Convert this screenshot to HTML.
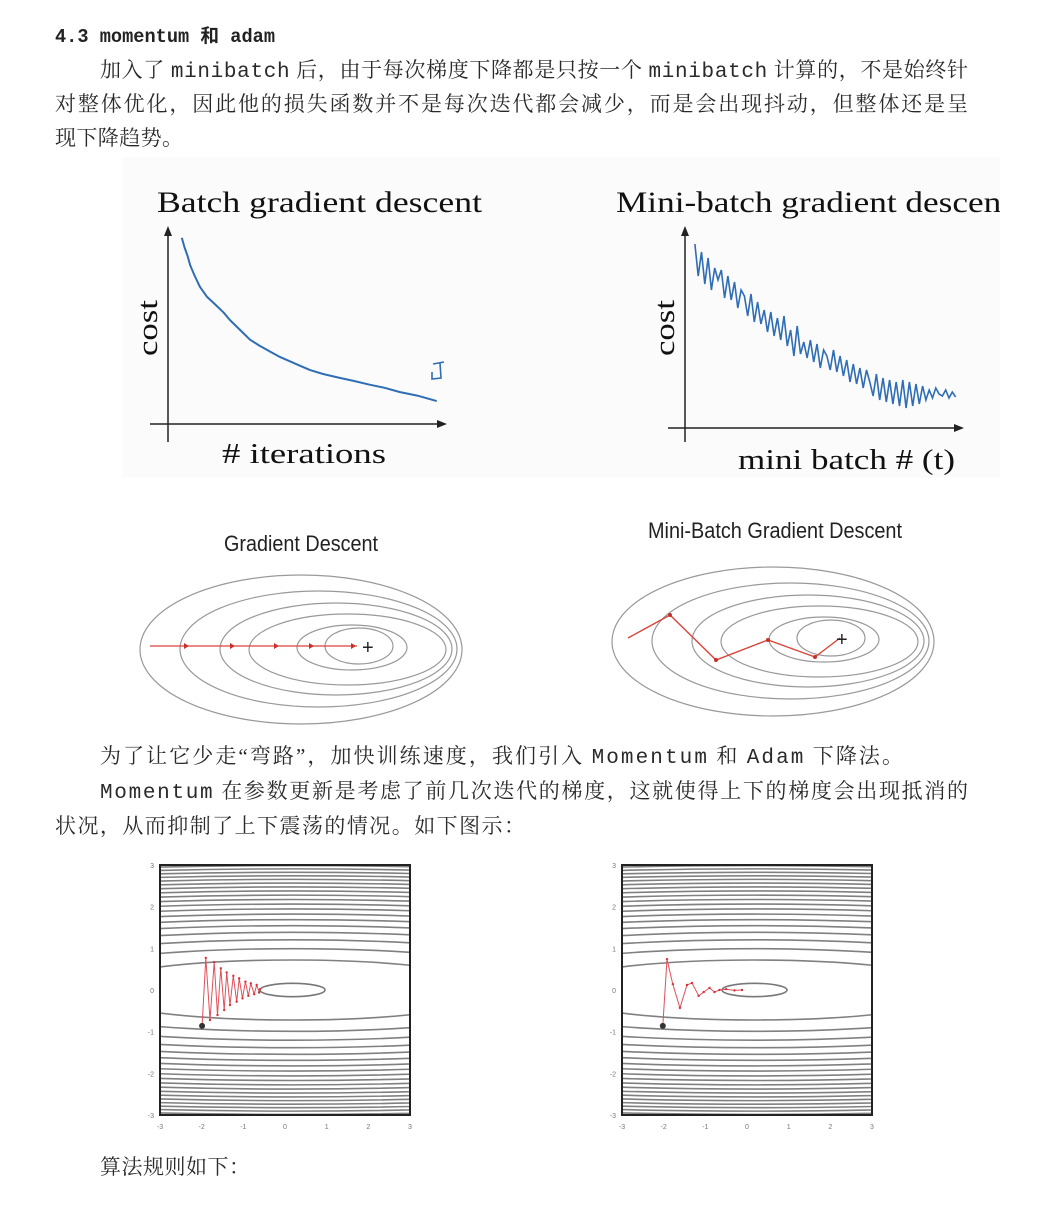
<!DOCTYPE html>
<html><head><meta charset="utf-8"><style>
html,body{margin:0;padding:0;background:#fff;}
svg{display:block;}
.cj{font-family:"Liberation Serif","Noto Serif CJK SC",serif;font-size:21px;fill:#2a2a2a;}
.mo{font-family:"Liberation Mono","Noto Sans CJK SC",monospace;}
</style></head><body>
<svg id="page" width="1048" height="1206" viewBox="0 0 1048 1206" xmlns="http://www.w3.org/2000/svg">
<text x="55" y="42" class="mo" font-size="19" font-weight="bold" fill="#222" textLength="220" lengthAdjust="spacingAndGlyphs">4.3 momentum 和 adam</text>
<text class="cj" x="100" y="77" textLength="868" lengthAdjust="spacing">加入了 <tspan class="mo">minibatch</tspan> 后，由于每次梯度下降都是只按一个 <tspan class="mo">minibatch</tspan> 计算的，不是始终针</text>
<text class="cj" x="55" y="111" textLength="913" lengthAdjust="spacing">对整体优化，因此他的损失函数并不是每次迭代都会减少，而是会出现抖动，但整体还是呈</text>
<text class="cj" x="55" y="145" textLength="128" lengthAdjust="spacing">现下降趋势。</text>

<rect x="122" y="157" width="878" height="321" fill="#fbfbfb"/>
<g id="batchChart"></g>
<g id="miniChart"></g>
<g id="gdContour"></g>
<g id="mbContour"></g>

<text class="cj" x="100" y="763" textLength="803" lengthAdjust="spacing">为了让它少走“弯路”，加快训练速度，我们引入 <tspan class="mo">Momentum</tspan> 和 <tspan class="mo">Adam</tspan> 下降法。</text>
<text class="cj" x="100" y="798" textLength="868" lengthAdjust="spacing"><tspan class="mo">Momentum</tspan> 在参数更新是考虑了前几次迭代的梯度，这就使得上下的梯度会出现抵消的</text>
<text class="cj" x="55" y="833" textLength="470" lengthAdjust="spacing">状况，从而抑制了上下震荡的情况。如下图示：</text>

<g id="sgdPlot"></g>
<g id="momPlot"></g>

<text class="cj" x="100" y="1174" textLength="150" lengthAdjust="spacing">算法规则如下：</text>
</svg>
<script>
// ---- batch cost chart data ----
const batchIter = [5,6,7,8,9.5,11.5,14,17,20,22.4,26,29.6,33,36.8,40,44,48,51.3,56,62,67,73,78,83.8,90,97];
const batchCost = [9.5,9.0,8.6,8.1,7.6,7.0,6.5,6.1,5.7,5.3,4.8,4.3,4.0,3.7,3.45,3.2,2.95,2.75,2.55,2.35,2.2,2.0,1.85,1.63,1.45,1.17];
// ---- mini-batch cost chart data ----
const miniCost = [9.2,7.6,8.8,7.2,8.5,6.9,8.0,7.4,7.9,6.5,7.6,6.4,7.3,6.0,6.9,6.6,5.6,6.7,5.3,6.3,5.2,5.9,4.8,5.8,4.6,5.5,4.4,5.6,4.1,4.9,3.6,5.1,3.7,4.3,3.5,4.4,3.3,4.2,3.0,3.9,3.6,2.9,3.9,2.8,3.6,2.6,3.4,2.3,3.2,2.2,3.0,2.0,2.9,2.3,1.6,2.7,1.4,2.5,1.3,2.4,1.2,2.3,1.1,2.4,1.0,2.3,1.1,2.2,1.2,2.1,1.4,1.9,1.5,2.0,1.7,1.6,1.9,1.5,1.8,1.55];
// ---- contour illustration data (ellipse extents) ----
const gdLeft = [140,180,220,249,297,325];
const gdRight = [462,457,452,446,407,393];
const gdTop = [575,591,603,614,625,628];
const gdBottom = [724,707,695,685,670,664];
const gdSteps = [150,188,234,278,313,355];
const mbPathX = [628,670,716,768,815,840];
const mbPathY = [638,615,660,640,657,638];
// ---- momentum plots data ----
const sgdX = [-1.99,-1.90,-1.80,-1.70,-1.62,-1.54,-1.46,-1.40,-1.32,-1.24,-1.16,-1.10,-1.02,-0.95,-0.88,-0.82,-0.74,-0.68,-0.62,-0.60];
const sgdY = [-0.86,0.77,-0.72,0.67,-0.60,0.52,-0.48,0.42,-0.36,0.34,-0.28,0.28,-0.20,0.20,-0.14,0.16,-0.10,0.12,-0.06,0.02];
const momX = [-2.02,-1.92,-1.78,-1.61,-1.44,-1.32,-1.16,-1.04,-0.90,-0.78,-0.66,-0.50,-0.30,-0.12];
const momY = [-0.86,0.74,0.14,-0.43,0.12,0.17,-0.14,-0.05,0.05,-0.05,0.00,0.02,-0.01,0.00];
const tickVals = [-3,-2,-1,0,1,2,3];

const NS='http://www.w3.org/2000/svg';
function mk(parent,tag,attrs,text){const e=document.createElementNS(NS,tag);for(const k in attrs)e.setAttribute(k,attrs[k]);if(text!==undefined)e.textContent=text;parent.appendChild(e);return e;}

// Batch chart
(function(){
 const g=document.getElementById('batchChart');
 const x=v=>168+v*2.77, y=v=>424-v*19.6;
 let e;
 e=mk(g,'text',{x:157,y:212,'font-family':'Liberation Serif, serif','font-size':30,fill:'#111',textLength:325,lengthAdjust:'spacingAndGlyphs'},'Batch gradient descent');
 
 
 e=mk(g,'path',{d:'M168,442 V232 M150,424 H441',stroke:'#222','stroke-width':1.5,fill:'none'});
 
 
 mk(g,'path',{d:'M164,236 L168,226 L172,236Z M437,420 L447,424 L437,428Z',fill:'#222'});
 e=mk(g,'text',{x:0,y:0,transform:'translate(157,356) rotate(-90)','font-family':'Liberation Serif, serif','font-size':28,fill:'#111',textLength:56,lengthAdjust:'spacingAndGlyphs'},'cost');
 
 
 e=mk(g,'text',{x:222,y:463,'font-family':'Liberation Serif, serif','font-size':28,fill:'#111',textLength:164,lengthAdjust:'spacingAndGlyphs'},'# iterations');
 
 
 const d=batchIter.map((v,i)=>(i?'L':'M')+x(v).toFixed(1)+','+y(batchCost[i]).toFixed(1)).join(' ');
 e=mk(g,'path',{d:d,stroke:'#2f6db5','stroke-width':2,fill:'none','stroke-linejoin':'round'});
 
 
 e=mk(g,'path',{d:'M433,364 L444,362 M440,363 L441,378 L432,379 L432,372',stroke:'#2f6db5','stroke-width':1.6,fill:'none'});
 
 
})();

// Mini-batch chart
(function(){
 const g=document.getElementById('miniChart');
 const x=v=>685+(v+3)*3.3, y=v=>428-v*20;
 let e;
 e=mk(g,'text',{x:616,y:212,'font-family':'Liberation Serif, serif','font-size':30,fill:'#111',textLength:395,lengthAdjust:'spacingAndGlyphs'},'Mini-batch gradient descent');
 
 
 mk(g,'rect',{x:1000,y:170,width:48,height:60,fill:'#fff'});
 e=mk(g,'path',{d:'M685,442 V232 M668,428 H958',stroke:'#222','stroke-width':1.5,fill:'none'});
 
 
 mk(g,'path',{d:'M681,236 L685,226 L689,236Z M954,424 L964,428 L954,432Z',fill:'#222'});
 e=mk(g,'text',{x:0,y:0,transform:'translate(674,356) rotate(-90)','font-family':'Liberation Serif, serif','font-size':28,fill:'#111',textLength:56,lengthAdjust:'spacingAndGlyphs'},'cost');
 
 
 e=mk(g,'text',{x:738,y:469,'font-family':'Liberation Serif, serif','font-size':28,fill:'#111',textLength:217,lengthAdjust:'spacingAndGlyphs'},'mini batch # (t)');
 
 
 const d=miniCost.map((v,i)=>(i?'L':'M')+x(i).toFixed(1)+','+y(v).toFixed(1)).join(' ');
 e=mk(g,'path',{d:d,stroke:'#2f6db5','stroke-width':1.6,fill:'none'});
 
 
})();

// Gradient descent contour illustration
(function(){
 const g=document.getElementById('gdContour');
 let e;
 e=mk(g,'text',{x:224,y:551,'font-family':'Liberation Sans, sans-serif','font-size':22,fill:'#222',textLength:154,lengthAdjust:'spacingAndGlyphs'},'Gradient Descent');
 
 
 gdLeft.forEach((l,i)=>{
  const el=mk(g,'ellipse',{cx:(l+gdRight[i])/2,cy:(gdTop[i]+gdBottom[i])/2,rx:(gdRight[i]-l)/2,ry:(gdBottom[i]-gdTop[i])/2,fill:'none',stroke:'#999','stroke-width':1.2});
  
  
 });
 e=mk(g,'path',{d:'M150,646 H357',stroke:'#d9453a','stroke-width':1.2});
 
 
 gdSteps.slice(1).forEach(px=>{
  const el=mk(g,'path',{d:`M${px-4},643 L${px+1},646 L${px-4},649Z`,fill:'#c8302a'});
  
  
 });
 e=mk(g,'text',{x:362,y:654,'font-family':'Liberation Sans, sans-serif','font-size':20,fill:'#222'},'+');
 
 
})();

// Mini-batch contour illustration
(function(){
 const g=document.getElementById('mbContour');
 let e;
 e=mk(g,'text',{x:648,y:538,'font-family':'Liberation Sans, sans-serif','font-size':22,fill:'#222',textLength:254,lengthAdjust:'spacingAndGlyphs'},'Mini-Batch Gradient Descent');
 
 
 gdLeft.forEach((l,i)=>{
  const off=472, dy=-8;
  const el=mk(g,'ellipse',{cx:(l+gdRight[i])/2+off,cy:(gdTop[i]+gdBottom[i])/2+dy,rx:(gdRight[i]-l)/2,ry:(gdBottom[i]-gdTop[i])/2,fill:'none',stroke:'#999','stroke-width':1.2});
  
  
 });
 const d=mbPathX.map((v,i)=>(i?'L':'M')+v+','+mbPathY[i]).join(' ');
 e=mk(g,'path',{d:d,stroke:'#d9453a','stroke-width':1.4,fill:'none'});
 
 
 mbPathX.slice(1,5).forEach((v,i)=>{
  const el=mk(g,'circle',{cx:v,cy:mbPathY[i+1],r:2,fill:'#c8302a'});
  
  
 });
 e=mk(g,'text',{x:836,y:646,'font-family':'Liberation Sans, sans-serif','font-size':20,fill:'#222'},'+');
 
 
})();

// Contour plots with trajectories
function contourPlot(id,left,px,py,prefix){
 const g=document.getElementById(id);
 const top=865, W=250, u=W/6;
 const sx=v=>left+(v+3)*u, sy=v=>top+(3-v)*u;
 const cid='clip'+id;
 const defs=mk(g,'defs',{});
 const cp=mk(defs,'clipPath',{id:cid});
 mk(cp,'rect',{x:left,y:top,width:W,height:W});
 const cg=mk(g,'g',{'clip-path':`url(#${cid})`});
 let e=mk(cg,'ellipse',{cx:sx(0.18),cy:sy(0),rx:0.78*u,ry:0.16*u,fill:'none',stroke:'#777','stroke-width':1.6});
 
 
 for(let k=1;k<=19;k++){
  const ry=0.72*Math.sqrt(1+(k-1)*0.9);
  const el=mk(cg,'ellipse',{cx:sx(0.18),cy:sy(0),rx:ry*6.9*u,ry:ry*u,fill:'none',stroke:'#808080','stroke-width':1.6});
  
  
 }
 e=mk(g,'rect',{x:left,y:top,width:W,height:W,fill:'none',stroke:'#222','stroke-width':2});
 
 
 tickVals.forEach(t=>{
  let el=mk(g,'text',{x:sx(t),y:top+W+14,'font-family':'Liberation Sans, sans-serif','font-size':7,fill:'#777','text-anchor':'middle'},String(t));
  
  
  el=mk(g,'text',{x:left-6,y:sy(t)+3,'font-family':'Liberation Sans, sans-serif','font-size':7,fill:'#777','text-anchor':'end'},String(t));
  
  
 });
 const d=px.map((v,i)=>(i?'L':'M')+sx(v).toFixed(1)+','+sy(py[i]).toFixed(1)).join(' ');
 e=mk(g,'path',{d:d,stroke:'#e0505a','stroke-width':1,fill:'none'});
 
 
 px.forEach((v,i)=>{ if(i){const el=mk(g,'circle',{cx:sx(v),cy:sy(py[i]),r:1.2,fill:'#d9303a'});
  
  }});
 e=mk(g,'circle',{cx:sx(px[0]),cy:sy(py[0]),r:3,fill:'#333'});
 
 
}
contourPlot('sgdPlot',160,sgdX,sgdY,'sgd');
contourPlot('momPlot',622,momX,momY,'momentum');
</script>
</body></html>
